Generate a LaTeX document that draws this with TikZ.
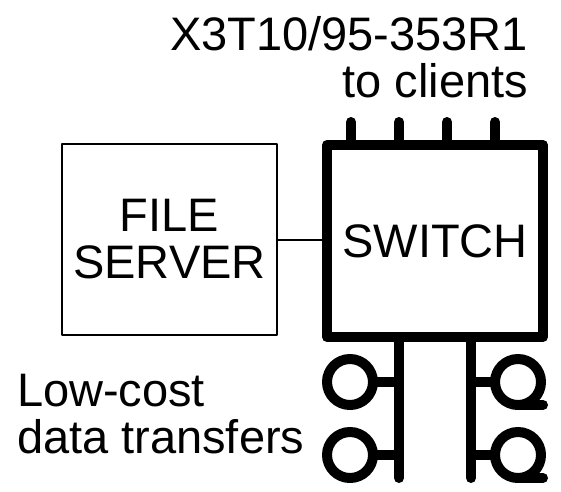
\documentclass[tikz,border=0pt]{standalone}
\usepackage{fontspec}
\setmainfont{Liberation Sans}
\usetikzlibrary{positioning}

\begin{document}
\begin{tikzpicture}[x=1pt,y=-1pt,line cap=round,line join=round,
      every node/.style={font=\fontsize{47}{47}\selectfont,outer sep=0pt},
      box/.style={draw,line width=2pt,minimum width=215pt,minimum height=191pt},
      port/.style={draw,circle,line width=10pt,minimum size=46pt,inner sep=0pt},
      bus/.style={line width=10pt}]
      \useasboundingbox (0,0) rectangle (561,491);
      \node[box,line width=10pt,minimum width=216pt,minimum height=192pt] (sw) at (435,241) {SWITCH};
      \node[box,align=center] (fs) at (169.5,239.5) {FILE\\SERVER};
      \draw[line width=2pt] (fs.east) -- (fs.east -| sw.west);
      % ports to the clients
      \foreach \dx in {-84,-36,12,60}
        \draw[bus] ([xshift=\dx pt]sw.north) -- ++(0,-23);
      % storage side
      \draw[bus] ([xshift=-36pt]sw.south) -- ++(0,141) coordinate (l_end);
      \draw[bus] ([xshift=36pt]sw.south) -- ++(0,141) coordinate (r_end);
      \node[port] (l_1) at (350,382) {};
      \node[port] (l_2) at (350,455) {};
      \node[port] (r_1) at (518,382) {};
      \node[port] (r_2) at (518,455) {};
      \foreach \p in {l_1,l_2}
        \draw[bus] (\p.east) -- (\p -| l_end);
      \foreach \p in {r_1,r_2} {
        \draw[bus] (\p.west) -- (\p -| r_end);
        \draw[bus] (\p.south) -- ++(25,0);
      }
      \node[anchor=base east,align=right,inner sep=0pt] (title) at (528,97) {X3T10/95-353R1\\to clients};
      \node[anchor=base west,align=left,inner sep=0pt] (low) at (17,453) {Low-cost\\data transfers};
\end{tikzpicture}
\end{document}
